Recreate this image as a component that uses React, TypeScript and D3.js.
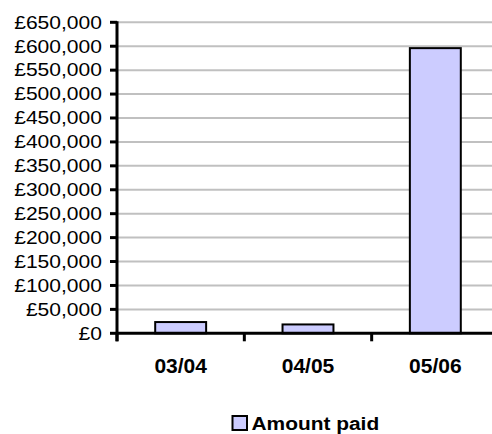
import React from "react";
import * as d3 from "d3";

const categories = ["03/04", "04/05", "05/06"];
const amountPaid = [23500, 18500, 596000];
const yTicks = d3.range(0, 650001, 50000);
const seriesName = "Amount paid";

const W = 492;
const H = 434;
const left = 117;
const right = 499;
const top = 22.3;
const bottom = 333.3;
const font = "'Liberation Sans', Arial, sans-serif";

export default function App() {
  const x = d3.scaleBand<string>().domain(categories).range([left, right]).paddingInner(0.6).paddingOuter(0.3);
  const y = d3.scaleLinear().domain([0, 650000]).range([bottom, top]);
  const step = x.step();
  const fmt = (v: number) => "£" + d3.format(",")(v);
  const boundaries = categories.map((_, i) => left + i * step).concat([right]);

  return (
    <svg width={W} height={H} style={{ position: "absolute", left: 0, top: 0, background: "#fff" }} fontFamily={font}>
      {yTicks.filter((t) => t > 0).map((t) => (
        <line key={"g" + t} x1={left} x2={W} y1={y(t)} y2={y(t)} stroke="#c0c0c0" strokeWidth={2} />
      ))}
      {categories.map((c, i) => (
        <rect key={c} x={x(c)} y={y(amountPaid[i])} width={x.bandwidth()} height={bottom - y(amountPaid[i])}
          fill="#ccccff" stroke="#000" strokeWidth={2} />
      ))}
      <line x1={left} x2={left} y1={top - 1} y2={bottom + 8} stroke="#000" strokeWidth={3} />
      <line x1={left} x2={W} y1={bottom} y2={bottom} stroke="#000" strokeWidth={3} />
      {yTicks.map((t) => (
        <g key={"t" + t}>
          <line x1={left - 7} x2={left} y1={y(t)} y2={y(t)} stroke="#000" strokeWidth={3} />
          <text transform={`translate(102,${y(t) + 6.3}) scale(1.17,1)`} textAnchor="end" fontSize={18} fill="#000">
            {fmt(t)}
          </text>
        </g>
      ))}
      {boundaries.map((b, i) => (
        <line key={"b" + i} x1={b} x2={b} y1={bottom} y2={bottom + 8} stroke="#000" strokeWidth={3} />
      ))}
      {categories.map((c) => (
        <text key={"l" + c} x={(x(c) as number) + x.bandwidth() / 2} y={373.3} textAnchor="middle" fontSize={21} fontWeight="bold" fill="#000">
          {c}
        </text>
      ))}
      <rect x={232.5} y={416} width={14.5} height={14} fill="#ccccff" stroke="#000" strokeWidth={2} />
      <text transform="translate(251.5,430.3) scale(1.1,1)" fontSize={19} fontWeight="bold" fill="#000">
        {seriesName}
      </text>
    </svg>
  );
}
